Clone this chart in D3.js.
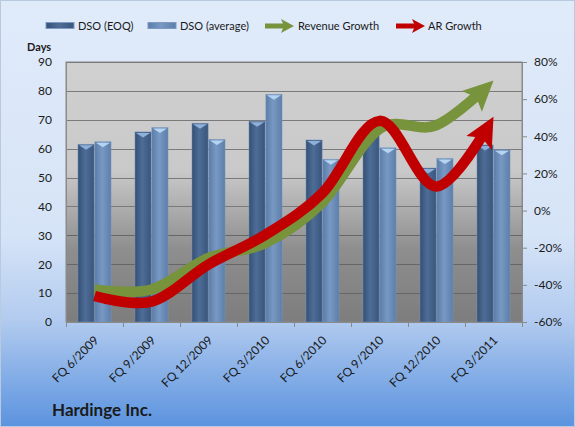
<!DOCTYPE html>
<html><head><meta charset="utf-8">
<script src="https://cdn.jsdelivr.net/npm/d3@7"></script>
<style>body{margin:0;padding:0;overflow:hidden}svg{display:block}text{font-family:Lato,"Open Sans",sans-serif;fill:#1a1a1a}</style>
</head><body>
<script>
const categories = ["FQ 6/2009","FQ 9/2009","FQ 12/2009","FQ 3/2010","FQ 6/2010","FQ 9/2010","FQ 12/2010","FQ 3/2011"];
const dsoEOQ = [61.5, 65.8, 68.8, 69.5, 63.0, 64.5, 53.3, 61.3];
const dsoAvg = [62.4, 67.3, 63.2, 78.8, 56.3, 60.3, 56.6, 59.6];
const revenueGrowth = [-42.5, -42.5, -25.5, -17.5, 4.5, 44, 46, 70];
const arGrowth = [-46, -49, -29, -13, 9.5, 48.3, 13, 50.5];
const leftTicks = [0,10,20,30,40,50,60,70,80,90];
const rightTicks = [-60,-40,-20,0,20,40,60,80];
const seriesNames = ["DSO (EOQ)","DSO (average)","Revenue Growth","AR Growth"];

const W=575,H=427;
const svg=d3.select("body").append("svg").attr("width",W).attr("height",H);
const defs=svg.append("defs");
function lin(id,x2,y2,stops){const g=defs.append("linearGradient").attr("id",id).attr("x1",0).attr("y1",0).attr("x2",x2).attr("y2",y2);stops.forEach(s=>g.append("stop").attr("offset",s[0]).attr("stop-color",s[1]));}
lin("bg",0,1,[[0,"#e0ebfa"],[0.55,"#d6e4f7"],[0.75,"#b2cbef"],[1,"#5b93df"]]);
lin("plot",0,1,[[0,"#d0d0d0"],[0.42,"#c9c9c9"],[0.72,"#8e8e8e"],[1,"#7d7d7d"]]);
lin("barD",1,0,[[0,"#354f74"],[0.45,"#4d6d97"],[1,"#3a557b"]]);
lin("barL",1,0,[[0,"#5a7ca8"],[0.45,"#7899c4"],[1,"#5c7ea9"]]);

svg.append("rect").attr("x",0.5).attr("y",0.5).attr("width",W-1).attr("height",H-1).attr("fill","url(#bg)").attr("stroke","#b8c9e0");

const L=66,R=522,T=62,B=322;
const x0=d3.scaleBand().domain(categories).range([L,R]).paddingInner(0.42).paddingOuter(0.21);
const x1=d3.scaleBand().domain([0,1]).range([0,x0.bandwidth()]).paddingInner(0.04);
const yL=d3.scaleLinear().domain([0,90]).range([B,T]);
const yR=d3.scaleLinear().domain([-60,80]).range([B,T]);

svg.append("rect").attr("x",L).attr("y",T).attr("width",R-L).attr("height",B-T).attr("fill","url(#plot)").attr("stroke","#8a8a8a");

// gridlines
svg.append("g").selectAll("line").data(leftTicks).join("line")
 .attr("x1",L).attr("x2",R).attr("y1",d=>Math.round(yL(d))+0.5).attr("y2",d=>Math.round(yL(d))+0.5)
 .attr("stroke",d=>d<40?"#666":"#7a7a7a").attr("stroke-width",1);

// bars
const gB=svg.append("g");
categories.forEach((c,i)=>{
  [[dsoEOQ[i],"url(#barD)"],[dsoAvg[i],"url(#barL)"]].forEach((s,j)=>{
    const x=x0(c)+x1(j), w=x1.bandwidth(), y=yL(s[0]);
    gB.append("rect").attr("x",x).attr("y",y).attr("width",w).attr("height",B-y).attr("fill",s[1]).attr("stroke","rgba(120,150,190,0.6)").attr("stroke-width",0.8);
    gB.append("path").attr("d",`M${x+1},${y+1}L${x+w-1},${y+1}L${x+w/2},${y+5.5}Z`).attr("fill",j?"#b4d4f2":"#8fb0d8");
  });
});

// axes
const axL=svg.append("g").attr("transform",`translate(${L},0)`).call(d3.axisLeft(yL).tickValues(leftTicks).tickSize(0).tickPadding(14));
axL.select(".domain").attr("stroke","#8a8a8a");
axL.selectAll("text").style("font-size","12px").attr("fill","#1a1a1a");
const axR=svg.append("g").attr("transform",`translate(${R},0)`).call(d3.axisRight(yR).tickValues(rightTicks).tickSize(5).tickPadding(7).tickFormat(d=>d+"%"));
axR.select(".domain").attr("stroke","#8a8a8a");
axR.selectAll("line").attr("stroke","#8a8a8a");
axR.selectAll("text").style("font-size","12px").attr("fill","#1a1a1a");
const gX=svg.append("g");
gX.append("line").attr("x1",L).attr("x2",R).attr("y1",B+0.5).attr("y2",B+0.5).attr("stroke","#8a8a8a");
const bounds=categories.map(c=>x0(c)-x0.step()*0.21).concat([R]);
gX.selectAll("line.t").data(bounds).join("line").attr("class","t").attr("x1",d=>Math.round(d)+0.5).attr("x2",d=>Math.round(d)+0.5).attr("y1",B).attr("y2",B+5).attr("stroke","#8a8a8a");
gX.selectAll("text").data(categories).join("text")
 .attr("transform",c=>`translate(${x0(c)+x0.bandwidth()/2+2},${B+16}) rotate(-45)`)
 .attr("text-anchor","end").attr("dy","0.35em").style("font-size","12px").text(d=>d);

// lines with arrows
function marker(id,color){
  defs.append("marker").attr("id",id).attr("markerUnits","userSpaceOnUse").attr("markerWidth",40).attr("markerHeight",40)
   .attr("viewBox","-34 -20 40 40").attr("refX",0).attr("refY",0).attr("orient","auto")
   .append("path").attr("d","M0,0L-30,-14.5L-24,0L-30,14.5Z").attr("fill",color);
}
marker("arG","#77933c");marker("arR","#c00000");
const cx=c=>x0(c)+x0.bandwidth()/2;
const line=d3.line().curve(d3.curveCatmullRom.alpha(0));
function drawArrow(vals,color,mk){
  const pts=categories.map((c,i)=>[cx(c),yR(vals[i])]);
  const p=svg.append("path").attr("d",line(pts)).attr("fill","none").attr("stroke",color).attr("stroke-width",10.5).attr("marker-end",`url(#${mk})`);
  const len=p.node().getTotalLength();
  p.attr("stroke-dasharray",`${len-20} ${len}`);
}
drawArrow(revenueGrowth,"#77933c","arG");
drawArrow(arGrowth,"#c00000","arR");

// legend
const lg=svg.append("g");
const ly=26;
function barSw(x,fill){lg.append("rect").attr("x",x).attr("y",ly-3.5).attr("width",28).attr("height",6).attr("fill",fill).attr("stroke","#7f9ac0");}
barSw(46,"url(#barD)");barSw(148,"url(#barL)");
function arrSw(x,color){
  lg.append("line").attr("x1",x).attr("x2",x+20).attr("y1",ly).attr("y2",ly).attr("stroke",color).attr("stroke-width",5);
  lg.append("path").attr("d",`M${x+29},${ly}L${x+16},${ly-7}L${x+19},${ly}L${x+16},${ly+7}Z`).attr("fill",color);
}
arrSw(265,"#77933c");arrSw(396,"#c00000");
[[78,0],[180,1],[298,2],[428,3]].forEach(([x,i])=>lg.append("text").attr("x",x).attr("y",ly).attr("dy","0.35em").style("font-size","11px").text(seriesNames[i]));

svg.append("text").attr("x",27).attr("y",51).style("font-size","11px").style("font-weight","bold").text("Days");
svg.append("text").attr("x",52).attr("y",416).style("font-size","17px").style("font-weight","bold").text("Hardinge Inc.");
</script>
</body></html>
